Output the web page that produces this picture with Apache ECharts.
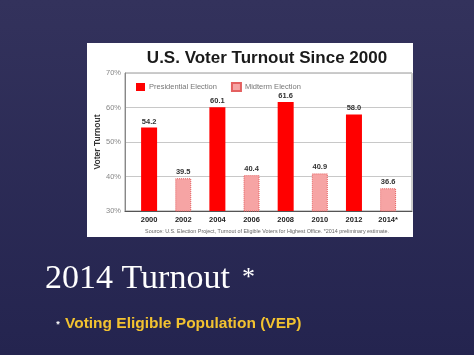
<!DOCTYPE html>
<html>
<head>
<meta charset="utf-8">
<script src="https://cdn.jsdelivr.net/npm/echarts@6/dist/echarts.min.js"></script>
<style>html,body{margin:0;padding:0;}#c{width:474px;height:355px;}</style>
</head>
<body>
<div id="c"></div>
<script>
var years = ['2000', '2002', '2004', '2006', '2008', '2010', '2012', '2014*'];
var presidential = [54.2, null, 60.1, null, 61.6, null, 58.0, null];
var midterm = [null, 39.5, null, 40.4, null, 40.9, null, 36.6];
var yTicks = [30, 40, 50, 60, 70];
var seriesNames = ['Presidential Election', 'Midterm Election'];

function pairs(arr) {
  var out = [];
  arr.forEach(function (v, i) { if (v !== null) out.push([i, v]); });
  return out;
}

var chart = echarts.init(document.getElementById('c'), null, {renderer: 'canvas'});
var labelCfg = {
  show: true, position: 'top', distance: 2,
  fontSize: 7.5, fontWeight: 'bold', color: '#333', fontFamily: 'Liberation Sans',
  formatter: function (p) { return p.value[1].toFixed(1); }
};
chart.setOption({
  animation: false,
  backgroundColor: {
    type: 'linear', x: 0, y: 0, x2: 0, y2: 1,
    colorStops: [{offset: 0, color: '#33325c'}, {offset: 1, color: '#24244f'}]
  },
  graphic: [
    {type: 'rect', z: -10, shape: {x: 87, y: 43, width: 326, height: 194}, style: {fill: '#ffffff'}},
    {type: 'text', z: 10, style: {text: 'Source: U.S. Election Project, Turnout of Eligible Voters for Highest Office. *2014 preliminary estimate.', x: 267, y: 232, textAlign: 'center', textVerticalAlign: 'middle', font: '5.4px "Liberation Sans"', fill: '#666'}},
    {type: 'text', z: 10, style: {text: '2014 Turnout', x: 45, y: 279, textVerticalAlign: 'middle', font: '34px "Liberation Serif"', fill: '#ffffff'}},
    {type: 'text', z: 10, style: {text: '*', x: 242, y: 278, textVerticalAlign: 'middle', font: '26px "Liberation Serif"', fill: '#ffffff'}},
    {type: 'text', z: 10, style: {text: '*', x: 58, y: 325, textAlign: 'center', textVerticalAlign: 'middle', font: 'bold 9px "Liberation Sans"', fill: '#ffffff'}},
    {type: 'text', z: 10, style: {text: 'Voting Eligible Population (VEP)', x: 65, y: 324, textVerticalAlign: 'middle', font: 'bold 15.5px "Liberation Sans"', fill: '#f2c230'}}
  ],
  title: {
    text: 'U.S. Voter Turnout Since 2000',
    left: 262, top: 45, textAlign: 'center',
    textStyle: {fontSize: 17, fontWeight: 'bold', color: '#1a1a1a', fontFamily: 'Liberation Sans'}
  },
  legend: {
    left: 131, top: 77, itemWidth: 9, itemHeight: 8, itemGap: 14, icon: 'rect',
    data: seriesNames,
    textStyle: {fontSize: 7.5, color: '#777', fontFamily: 'Liberation Sans', padding: [0, 0, 0, -1]}
  },
  grid: {left: 125, right: 62, top: 73, bottom: 144, show: true, borderColor: '#999', borderWidth: 1, backgroundColor: 'transparent'},
  xAxis: {
    type: 'value', min: -24 / 34, max: 7.7,
    axisLine: {show: true, onZero: false, lineStyle: {color: '#555', width: 1.2}},
    axisTick: {show: false},
    splitLine: {show: false},
    axisLabel: {
      customValues: years.map(function (y, i) { return i; }),
      formatter: function (v) { return years[Math.round(v)]; },
      fontSize: 7.5, fontWeight: 'bold', color: '#222', fontFamily: 'Liberation Sans', margin: 5
    }
  },
  yAxis: {
    type: 'value', min: yTicks[0], max: yTicks[yTicks.length - 1], interval: 10,
    name: 'Voter Turnout', nameLocation: 'middle', nameGap: 23, nameRotate: 90,
    nameMoveOverlap: false,
    nameTextStyle: {fontSize: 8.5, fontWeight: 'bold', color: '#333', fontFamily: 'Liberation Sans'},
    axisLine: {show: true, onZero: false, lineStyle: {color: '#888'}},
    axisTick: {show: false},
    splitLine: {show: true, lineStyle: {color: '#c8c8c8'}},
    axisLabel: {formatter: '{value}%', fontSize: 7.5, color: '#888', fontFamily: 'Liberation Sans', margin: 4}
  },
  series: [
    {
      name: seriesNames[0], type: 'bar', barWidth: 16, barGap: '-100%',
      data: pairs(presidential),
      itemStyle: {color: '#ff0000'},
      label: labelCfg
    },
    {
      name: seriesNames[1], type: 'bar', barWidth: 16, barGap: '-100%',
      data: pairs(midterm),
      itemStyle: {color: '#f6a4a4', borderColor: '#e46060', borderType: 'dotted', borderWidth: 1},
      label: labelCfg
    }
  ]
});
</script>
</body>
</html>
